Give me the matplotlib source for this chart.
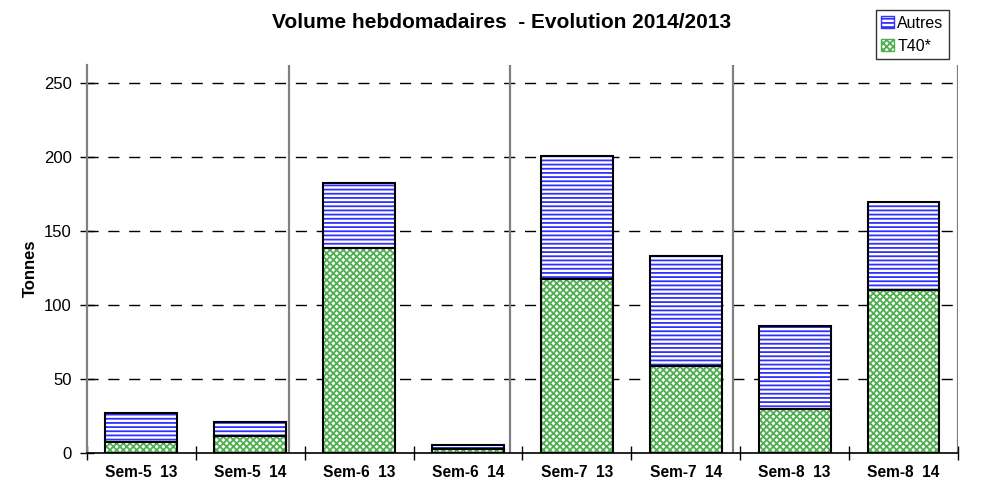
import numpy as np
import matplotlib.pyplot as plt
from matplotlib.patches import Patch

plt.rcParams['font.family'] = ['Liberation Sans', 'DejaVu Sans']
plt.rcParams['hatch.linewidth'] = 1.3

semaines = ['Sem-5  13', 'Sem-5  14', 'Sem-6  13', 'Sem-6  14',
            'Sem-7  13', 'Sem-7  14', 'Sem-8  13', 'Sem-8  14']
t40 = [7.5, 11.5, 138.5, 2.7, 117.6, 58.8, 29.7, 110.0]
autres = [19.5, 9.5, 43.9, 2.7, 83.1, 74.2, 56.1, 59.6]
separateurs = [1.855, 3.89, 5.93, 8.0]

bleu = '#3030ff'
vert = '#4fae4f'

fig = plt.figure(figsize=(10.03, 5.04), dpi=100)
ax = fig.add_axes([0.0867, 0.1012, 0.8684, 0.7698])

x = np.arange(len(semaines)) + 0.5
w = 0.66
bas = np.array(t40)

# remplissage hachuré puis contour noir par dessus
ax.bar(x, t40, w, color='white', edgecolor=vert, hatch='xxxxx', linewidth=0, zorder=3)
ax.bar(x, autres, w, bottom=bas, color='white', edgecolor=bleu, hatch='----', linewidth=0, zorder=3)
ax.bar(x, t40, w, fill=False, edgecolor='black', linewidth=1.5, zorder=4)
ax.bar(x, autres, w, bottom=bas, fill=False, edgecolor='black', linewidth=1.5, zorder=4)

for s in separateurs:
    ax.axvline(s, color='#808080', linewidth=1.6, zorder=2)

ax.set_xlim(0, 8)
ax.set_ylim(0, 262)
ax.set_yticks([0, 50, 100, 150, 200, 250])
for v in [50, 100, 150, 200, 250]:
    ax.axhline(v, color='black', linewidth=1, dashes=(8, 7), zorder=1)

ax.set_xticks(np.arange(0, 9))
ax.set_xticklabels([])
ax.set_xticks(x, minor=True)
ax.set_xticklabels(semaines, minor=True, fontsize=11.2, fontweight='bold')
ax.tick_params(axis='x', which='minor', length=0, pad=9)
ax.tick_params(axis='x', which='major', direction='inout', length=10, width=1)
ax.tick_params(axis='y', direction='inout', length=10, width=1, labelsize=12, pad=6)

ax.spines['top'].set_visible(False)
ax.spines['right'].set_visible(False)
ax.spines['left'].set_color('#808080')
ax.spines['left'].set_linewidth(1.6)
ax.spines['bottom'].set_linewidth(1.2)

ax.set_ylabel('Tonnes', fontsize=12, fontweight='bold')
ax.yaxis.set_label_coords(-0.056, 0.477)

fig.text(0.5, 0.955, 'Volume hebdomadaires  - Evolution 2014/2013',
         ha='center', va='center', fontsize=15, fontweight='bold')

poignees = [Patch(facecolor='white', edgecolor=bleu, hatch='----'),
            Patch(facecolor='white', edgecolor=vert, hatch='xxxxx')]
leg = fig.legend(poignees, ['Autres', 'T40*'], loc='upper left',
                 bbox_to_anchor=(0.873, 0.98), fontsize=11.5, frameon=True,
                 fancybox=False, edgecolor='black', handlelength=0.8,
                 handleheight=0.8, handletextpad=0.2, borderpad=0.35,
                 labelspacing=0.5, borderaxespad=0)
leg.get_frame().set_linewidth(1)

fig.savefig('out.png', dpi=100)
